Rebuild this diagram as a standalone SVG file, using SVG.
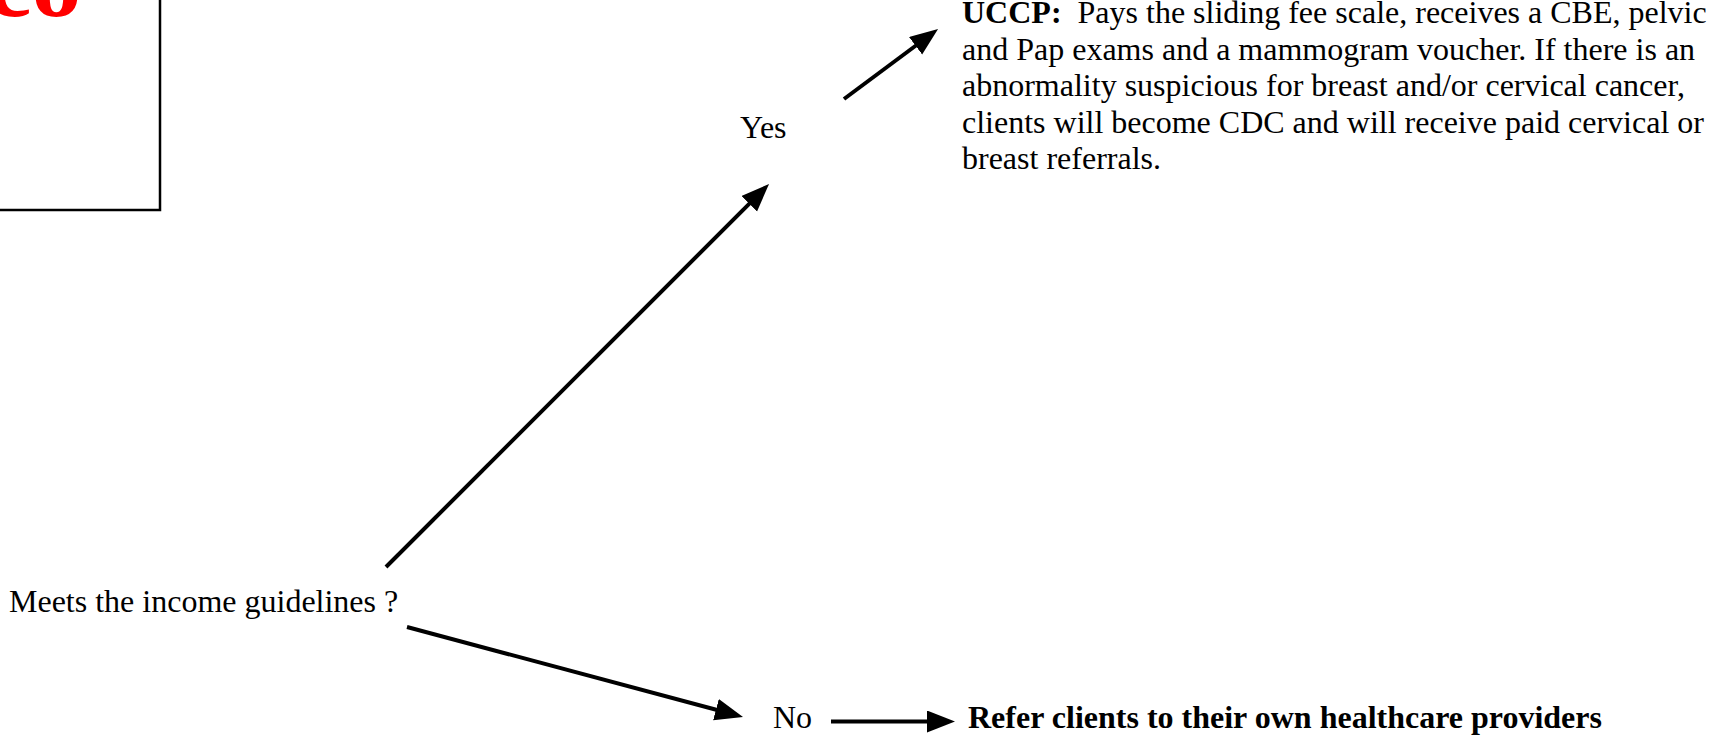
<svg xmlns="http://www.w3.org/2000/svg" width="1714" height="736" viewBox="0 0 1714 736">
<style>
text{font-family:"Liberation Serif","Times New Roman",serif;font-size:32px;fill:#000}
.b{font-weight:bold}
.con{stroke:#000;stroke-width:4;fill:none}
</style>
<defs>
<marker id="ah" markerUnits="userSpaceOnUse" markerWidth="30" markerHeight="24" refX="8" refY="11" orient="auto">
<path d="M0,0 L28,11 L0,22 z" fill="#000"/>
</marker>
</defs>
<rect width="1714" height="736" fill="#fff"/>
<g id="frame">
<rect x="-10" y="-10" width="170" height="220" fill="#fff" stroke="#000" stroke-width="2.5"/>
<text x="-13" y="16" class="b" style="font-size:100px;fill:#ff0000">co</text>
</g>
<g id="question"><text x="9" y="612">Meets the income guidelines ?</text></g>
<g id="yes"><text x="740" y="138">Yes</text></g>
<g id="no"><text x="773" y="728">No</text></g>
<g id="uccp">
<text x="962" y="23"><tspan class="b">UCCP:</tspan>&#160; Pays the sliding fee scale, receives a CBE, pelvic</text>
<text x="962" y="59.5">and Pap exams and a mammogram voucher. If there is an</text>
<text x="962" y="96">abnormality suspicious for breast and/or cervical cancer,</text>
<text x="962" y="132.5">clients will become CDC and will receive paid cervical or</text>
<text x="962" y="169">breast referrals.</text>
</g>
<g id="refer"><text x="968" y="728" class="b">Refer clients to their own healthcare providers</text></g>
<g id="connectors">
<line class="con" x1="386" y1="567" x2="754.9" y2="198.1" marker-end="url(#ah)"/>
<line class="con" x1="844" y1="99" x2="922" y2="41" marker-end="url(#ah)"/>
<line class="con" x1="407" y1="627" x2="723.7" y2="711.8" marker-end="url(#ah)"/>
<line class="con" x1="831" y1="721.5" x2="935" y2="721.5" marker-end="url(#ah)"/>
</g>
</svg>
